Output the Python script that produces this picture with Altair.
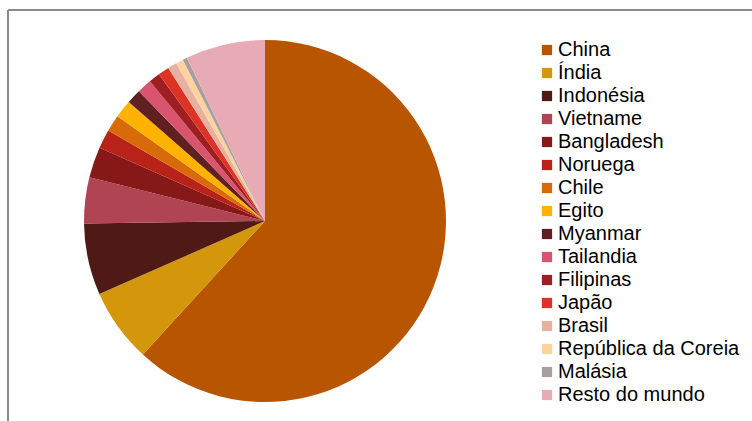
import altair as alt
import pandas as pd

# Share of world production by country (%)
paises = ["China", "Índia", "Indonésia", "Vietname", "Bangladesh", "Noruega",
          "Chile", "Egito", "Myanmar", "Tailandia", "Filipinas", "Japão",
          "Brasil", "República da Coreia", "Malásia", "Resto do mundo"]
valores = [61.8, 6.6, 6.4, 4.1, 2.75, 1.7, 1.5, 1.6, 1.3, 1.3, 1.0, 1.0,
           0.8, 0.67, 0.4, 7.1]
cores = ["#B85500", "#D4960A", "#4F1A16", "#B04452", "#861818", "#B82218",
         "#D96A0A", "#FFB300", "#5E2020", "#D9546E", "#9E1E22", "#DD3325",
         "#E8B0A0", "#FFD39F", "#A8A0A0", "#E8ABB5"]

df = pd.DataFrame({"pais": paises, "valor": valores, "ordem": list(range(len(paises)))})

pie = alt.Chart(df).mark_arc(outerRadius=181).encode(
    theta=alt.Theta("valor:Q", stack=True),
    order=alt.Order("ordem:Q"),
    color=alt.Color(
        "pais:N",
        scale=alt.Scale(domain=paises, range=cores),
        sort=paises,
        legend=alt.Legend(
            title=None,
            orient="none",
            legendX=537,
            legendY=40,
            symbolType="square",
            symbolSize=105,
            symbolStrokeWidth=0,
            labelFont="Liberation Sans",
            labelFontSize=20,
            labelColor="#000000",
            labelOffset=1,
            rowPadding=3,
            labelLimit=300,
        ),
    ),
    x=alt.value(265),
    y=alt.value(221),
)

frame_top = alt.Chart(df).mark_rule(color="#8a8a8a", strokeWidth=1.5).encode(
    x=alt.value(8), x2=alt.value(752), y=alt.value(10)
)
frame_left = alt.Chart(df).mark_rule(color="#8a8a8a", strokeWidth=1.5).encode(
    x=alt.value(8), y=alt.value(10), y2=alt.value(421)
)

chart = alt.layer(pie, frame_top, frame_left).properties(
    width=752,
    height=421,
    padding=0,
    autosize=alt.AutoSizeParams(type="none"),
).configure_view(stroke=None).configure_legend(labelFont="Liberation Sans")

chart.save("out.html", embed_options={"renderer": "svg", "actions": False})
